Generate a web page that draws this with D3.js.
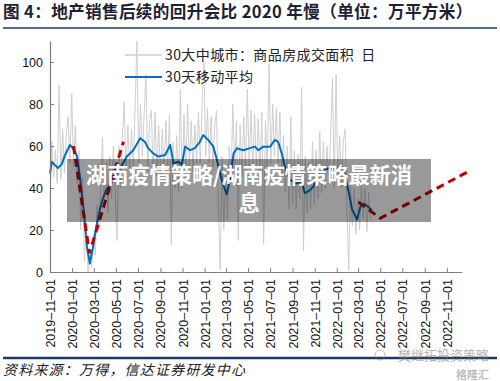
<!DOCTYPE html>
<html><head><meta charset="utf-8">
<script src="https://cdn.jsdelivr.net/npm/d3@7/dist/d3.min.js"></script>
<style>html,body{margin:0;padding:0;background:#fff;}svg{display:block;}</style>
</head><body><svg id="c" width="500" height="381"></svg>
<script>
// ---------- data ----------
const title = "图 4：地产销售后续的回升会比 2020 年慢（单位：万平方米）";
const source = "资料来源：万得，信达证券研发中心";
const legendLabels = ["30大中城市：商品房成交面积  日", "30天移动平均"];
const overlayLines = ["湖南疫情策略/湖南疫情策略最新消", "息"];
const yTicks = [0, 20, 40, 60, 80, 100];
const xTickLabels = ["2019-11-01","2020-01-01","2020-03-01","2020-05-01","2020-07-01","2020-09-01",
  "2020-11-01","2021-01-01","2021-03-01","2021-05-01","2021-07-01","2021-09-01","2021-11-01",
  "2022-01-01","2022-03-01","2022-05-01","2022-07-01","2022-09-01","2022-11-01"];

// daily area (sampled every 5 days from 2019-11-01)
const dailyStart = "2019-11-01";
const dailyStepDays = 5;
const dailyValues = [33,62,45,58,42,89,44,68,47,66,74,52,85,50,70,42,58,20,45,5,
  22,0,10,2,18,8,32,20,40,64,30,52,28,55,35,60,38,15,60,40,
  65,81,45,70,48,68,50,78,110,52,80,55,75,94,48,72,77,45,76,46,
  70,45,68,47,72,50,75,13,62,40,65,38,87,40,75,48,80,50,72,48,
  70,52,76,52,80,100,55,78,52,74,50,70,77,32,1,55,20,48,25,60,
  45,80,48,72,15,70,45,74,48,87,50,77,48,75,50,73,46,76,13,72,
  50,99,52,80,55,78,52,76,45,65,38,60,30,74,32,58,30,56,35,88,
  10,55,28,52,30,62,32,58,35,67,38,62,40,60,42,66,92,40,94,42,
  65,40,62,68,30,1,42,22,40,18,35,20,42,25,40,19,38,25];

// 30-day moving average
const maDates = ["2019-11-01","2019-11-06","2019-11-14","2019-11-23","2019-12-04","2019-12-12","2019-12-26",
  "2020-01-03","2020-01-14","2020-01-23","2020-02-03","2020-02-11","2020-02-19","2020-02-28","2020-03-07",
  "2020-03-18","2020-03-26","2020-04-04","2020-04-15","2020-04-26","2020-05-07","2020-05-18","2020-05-31",
  "2020-06-18","2020-07-07","2020-07-20","2020-07-29","2020-08-12","2020-08-26","2020-09-14","2020-09-28",
  "2020-10-07","2020-10-21","2020-10-30","2020-11-08","2020-11-22","2020-12-05","2020-12-19","2020-12-28",
  "2021-01-02","2021-01-11","2021-01-25","2021-02-03","2021-02-17","2021-03-03","2021-03-12","2021-03-22",
  "2021-03-31","2021-04-18","2021-05-06","2021-05-20","2021-05-29","2021-06-12","2021-07-01","2021-07-14",
  "2021-07-23","2021-08-02","2021-08-11","2021-08-25","2021-09-12","2021-09-26","2021-10-05","2021-10-19",
  "2021-10-28","2021-11-11","2021-11-20","2021-12-13","2022-01-01","2022-01-10","2022-01-19","2022-02-02",
  "2022-02-12","2022-02-26","2022-03-07","2022-03-18","2022-03-29","2022-04-08"];
const maValues = [47,52.5,51,49.5,51.5,55.5,60.5,
  59,55.5,45,28,12,4,12,21,
  30,35,39,41.5,45,48,51,55,
  58,63.7,62,59,56.5,55,55.7,60.5,
  51.7,52.5,51,59.7,58,59,62,65.2,
  64.4,62.9,59.7,54,43.8,37,43.8,56.5,
  58.9,58,59,59.7,58,59.7,59.7,62.9,
  62,56.5,50,43.8,42.2,43,37.5,39,
  40.6,47,48.4,49.4,48.4,51,49.4,39,
  30,25,31,32.5,31,29.5];

// projection dashed lines
const proj1Dates = ["2020-01-05","2020-02-18","2020-05-22"];
const proj1Values = [60, 9, 62];
const proj2Dates = ["2022-03-02","2022-05-01","2022-12-30"];
const proj2Values = [33.3, 25.6, 47.8];

// ---------- drawing ----------
const parse = d3.timeParse("%Y-%m-%d");
const svg = d3.select("#c");
const x = d3.scaleTime().domain([parse("2019-11-01"), parse("2022-12-12")]).range([50, 461.7]);
const y = d3.scaleLinear().domain([0, 110]).range([272, 41]);

const sansCJK = "'Noto Sans CJK SC','Noto Sans',sans-serif";

// title
svg.append("text").attr("x", 3).attr("y", 18).text(title)
  .attr("font-family", sansCJK).attr("font-weight", "bold").attr("font-size", 16.6)
  .attr("letter-spacing", 0.35).attr("fill", "#1c2233");
svg.append("line").attr("x1", 3).attr("x2", 497).attr("y1", 28).attr("y2", 28)
  .attr("stroke", "#1F3864").attr("stroke-width", 1.6);

// daily series
const d0 = parse(dailyStart);
const daily = dailyValues.map((v, i) => ({d: d3.timeDay.offset(d0, i * dailyStepDays), v}));
const line = d3.line().x(p => x(p.d)).y(p => y(p.v));
svg.append("path").datum(daily).attr("d", line)
  .attr("fill", "none").attr("stroke", "#cfcfcf").attr("stroke-width", 1);

// MA
const ma = maDates.map((d, i) => ({d: parse(d), v: maValues[i]}));
svg.append("path").datum(ma).attr("d", line)
  .attr("fill", "none").attr("stroke", "#0070C0").attr("stroke-width", 2).attr("stroke-linejoin", "round");

// projections
[[proj1Dates, proj1Values], [proj2Dates, proj2Values]].forEach(([ds, vs]) => {
  const pts = ds.map((d, i) => ({d: parse(d), v: vs[i]}));
  svg.append("path").datum(pts).attr("d", line)
    .attr("fill", "none").attr("stroke", "#C00000").attr("stroke-width", 3)
    .attr("stroke-dasharray", "8,5");
});

// axes
const axisColor = "#7f7f7f";
const yAxis = svg.append("g").attr("transform", "translate(50,0)")
  .call(d3.axisLeft(y).tickValues(yTicks).tickSizeInner(-4).tickSizeOuter(0).tickPadding(7));
const xAxis = svg.append("g").attr("transform", "translate(0,272)")
  .call(d3.axisBottom(x).tickValues(xTickLabels.map(parse)).tickSizeInner(-4).tickSizeOuter(0)
    .tickFormat(d => d3.timeFormat("%Y–%m–%d")(d)));
[yAxis, xAxis].forEach(g => {
  g.select(".domain").attr("stroke", axisColor).attr("stroke-width", 1.2);
  g.selectAll(".tick line").attr("stroke", axisColor);
  g.selectAll("text").attr("font-family", "'Liberation Sans',Arial,sans-serif").attr("font-size", 12.5).attr("fill", "#111");
});
xAxis.selectAll(".tick text")
  .attr("transform", "rotate(-90)").attr("text-anchor", "end")
  .attr("x", -7).attr("y", 0).attr("dy", "0.36em");

// legend
const lg = svg.append("g");
lg.append("line").attr("x1", 125).attr("x2", 162).attr("y1", 55).attr("y2", 55).attr("stroke", "#cfcfcf").attr("stroke-width", 1.5);
lg.append("line").attr("x1", 125).attr("x2", 162).attr("y1", 77).attr("y2", 77).attr("stroke", "#0070C0").attr("stroke-width", 2);
lg.selectAll("text.lg").data(legendLabels).join("text").attr("class", "lg")
  .attr("x", 165).attr("y", (d, i) => 60 + i * 22).text(d => d)
  .attr("font-family", sansCJK).attr("font-size", 14).attr("fill", "#222").attr("letter-spacing", 0.4)
  .style("white-space", "pre");

// bottom rule + source
svg.append("line").attr("x1", 3).attr("x2", 497).attr("y1", 358).attr("y2", 358)
  .attr("stroke", "#1F3864").attr("stroke-width", 2.4);
svg.append("text").attr("x", 3).attr("y", 375).text(source)
  .attr("font-family", sansCJK).attr("font-size", 14).attr("font-style", "italic")
  .attr("letter-spacing", 1.2).attr("fill", "#222");

// watermark
const wm = svg.append("g").attr("opacity", 0.55);
wm.append("circle").attr("cx", 380).attr("cy", 355).attr("r", 5).attr("fill", "none").attr("stroke", "#888");
wm.append("text").attr("x", 398).attr("y", 360).text("樊继拓投资策略")
  .attr("font-family", sansCJK).attr("font-size", 13).attr("fill", "#777");
wm.append("text").attr("x", 456).attr("y", 379).text("格隆汇")
  .attr("font-family", sansCJK).attr("font-size", 11).attr("font-weight", "bold").attr("fill", "#888");

// overlay banner
svg.append("rect").attr("x", 67).attr("y", 159).attr("width", 364).attr("height", 63)
  .attr("fill", "rgba(0,0,0,0.4)");
svg.selectAll("text.ov").data(overlayLines).join("text").attr("class", "ov")
  .attr("x", 249).attr("y", (d, i) => 183 + i * 28).attr("text-anchor", "middle").text(d => d)
  .attr("font-family", sansCJK).attr("font-weight", "bold").attr("font-size", 21.2).attr("fill", "#fff");
</script>
</body></html>
